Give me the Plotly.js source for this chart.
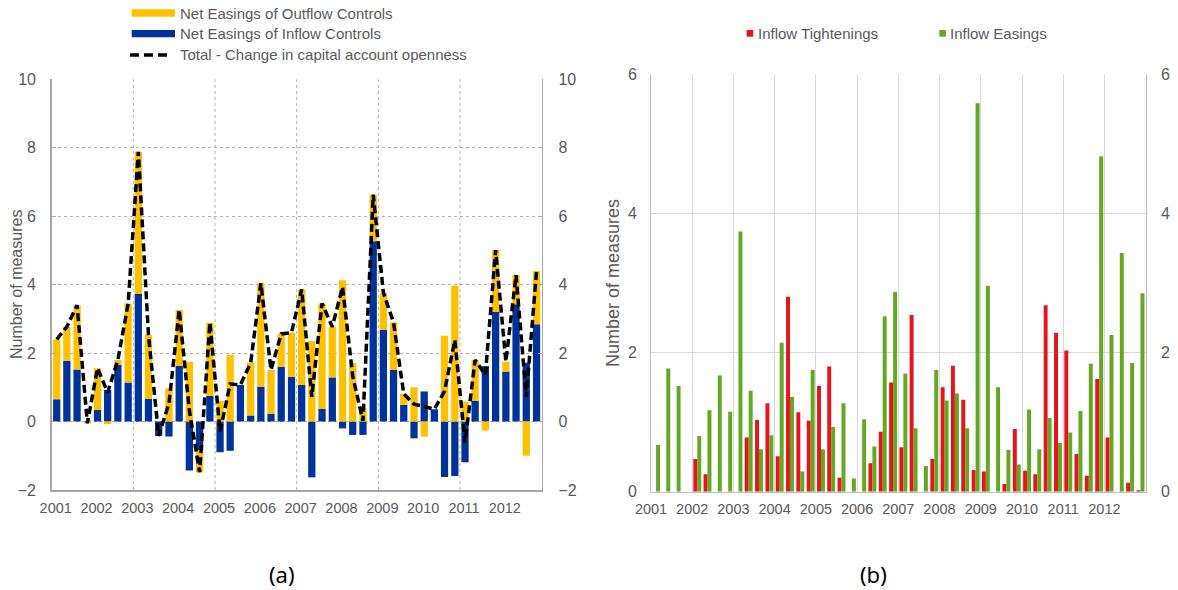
<!DOCTYPE html>
<html><head><meta charset="utf-8">
<script src="https://cdn.plot.ly/plotly-3.0.1.min.js"></script>
<style>html,body{margin:0;padding:0;background:#fff;}#chart{width:1178px;height:590px;}</style>
</head><body><div id="chart"></div>
<script>
// ---------- DATA ----------
const quarters = [
 '2001-01-01','2001-04-01','2001-07-01','2001-10-01',
 '2002-01-01','2002-04-01','2002-07-01','2002-10-01',
 '2003-01-01','2003-04-01','2003-07-01','2003-10-01',
 '2004-01-01','2004-04-01','2004-07-01','2004-10-01',
 '2005-01-01','2005-04-01','2005-07-01','2005-10-01',
 '2006-01-01','2006-04-01','2006-07-01','2006-10-01',
 '2007-01-01','2007-04-01','2007-07-01','2007-10-01',
 '2008-01-01','2008-04-01','2008-07-01','2008-10-01',
 '2009-01-01','2009-04-01','2009-07-01','2009-10-01',
 '2010-01-01','2010-04-01','2010-07-01','2010-10-01',
 '2011-01-01','2011-04-01','2011-07-01','2011-10-01',
 '2012-01-01','2012-04-01','2012-07-01','2012-10-01'];
const yearTicks = ['2001-01-01','2002-01-01','2003-01-01','2004-01-01','2005-01-01','2006-01-01',
 '2007-01-01','2008-01-01','2009-01-01','2010-01-01','2011-01-01','2012-01-01'];
const yearLabels = ['2001','2002','2003','2004','2005','2006','2007','2008','2009','2010','2011','2012'];

// Panel (a)
const netInflowEasings = [0.65,1.78,1.52,0,0.34,0.92,1.65,1.14,3.73,0.66,-0.42,-0.44,
 1.63,-1.43,-0.83,0.75,-0.90,-0.85,1.07,0.18,1.02,0.22,1.60,1.31,
 1.07,-1.63,0.37,1.29,-0.20,-0.39,-0.39,5.27,2.68,1.51,0.49,-0.49,
 0.88,0.36,-1.62,-1.59,-1.19,0.61,1.62,3.21,1.46,3.43,1.72,2.84];
const netOutflowEasings = [1.75,0.99,1.88,-0.05,1.22,-0.07,0.15,2.31,4.15,1.87,0,0.97,
 1.63,1.75,-0.65,2.14,0.61,1.95,0,1.54,3.02,1.29,0.96,1.29,
 2.79,2.35,3.08,1.48,4.13,1.72,0.41,1.36,1.08,1.39,0.32,1.00,
 -0.44,0,2.51,3.97,0.58,1.19,-0.26,1.80,0.29,0.85,-1.00,1.56];
const totalChange = [2.40,2.77,3.40,-0.05,1.56,0.85,1.80,3.45,7.88,2.53,-0.42,0.53,
 3.26,0.32,-1.48,2.89,-0.29,1.10,1.07,1.72,4.04,1.51,2.56,2.60,
 3.86,0.72,3.45,2.77,3.93,1.33,0.02,6.63,3.76,2.90,0.81,0.51,
 0.44,0.36,0.89,2.38,-0.61,1.80,1.36,5.01,1.75,4.28,0.72,4.40];

// Panel (b)
const inflowTightenings = [0,0,0,0,0.47,0.25,0,0,0,0.78,1.03,1.27,
 0.51,2.80,1.14,1.02,1.52,1.80,0.20,0,0,0.41,0.86,1.57,
 0.64,2.54,0,0.47,1.50,1.81,1.32,0.31,0.29,0,0.11,0.90,
 0.30,0.25,2.68,2.28,2.03,0.54,0.23,1.62,0.78,0,0.13,0.02];
const inflowEasings = [0.67,1.77,1.52,0,0.80,1.17,1.67,1.15,3.74,1.45,0.61,0.81,
 2.14,1.36,0.29,1.75,0.61,0.93,1.27,0.19,1.04,0.65,2.52,2.87,
 1.70,0.91,0.37,1.75,1.31,1.41,0.91,5.58,2.96,1.50,0.60,0.39,
 1.18,0.61,1.06,0.70,0.85,1.16,1.84,4.82,2.25,3.43,1.85,2.85];

// ---------- STYLE ----------
const W = 1178, H = 590;
const px = v => v / W, py = v => 1 - v / H;
const DAY = 86400000;
const FONT = 'Liberation Sans, Arial, sans-serif';
const GREY = '#595959';
const YELLOW = '#FFC000', BLUE = '#003399', RED = '#E8141B', GREEN = '#62A820';

const traces = [
 {type:'bar', name:'Net Easings of Inflow Controls', x:quarters, y:netInflowEasings,
  xaxis:'x', yaxis:'y', xperiod:'M3', xperiodalignment:'middle', width:65*DAY,
  marker:{color:BLUE, line:{width:0}}, showlegend:false},
 {type:'bar', name:'Net Easings of Outflow Controls', x:quarters, y:netOutflowEasings,
  xaxis:'x', yaxis:'y', xperiod:'M3', xperiodalignment:'middle', width:65*DAY,
  marker:{color:YELLOW, line:{width:0}}, showlegend:false},
 {type:'scatter', mode:'lines', name:'Total - Change in capital account openness', x:quarters, y:totalChange,
  xaxis:'x', yaxis:'y3', xperiod:'M3', xperiodalignment:'middle',
  line:{color:'#000000', width:3.5, dash:'8px,4px'}, showlegend:false},
 {type:'bar', name:'Inflow Tightenings', x:quarters, y:inflowTightenings,
  xaxis:'x2', yaxis:'y2', xperiod:'M3', xperiodalignment:'middle', width:35*DAY, offset:-35*DAY,
  marker:{color:RED, line:{width:0}}, showlegend:false},
 {type:'bar', name:'Inflow Easings', x:quarters, y:inflowEasings,
  xaxis:'x2', yaxis:'y4', xperiod:'M3', xperiodalignment:'middle', width:35*DAY, offset:0,
  marker:{color:GREEN, line:{width:0}}, showlegend:false}
];

const gridDates = ['2003-01-01','2005-01-01','2007-01-01','2009-01-01','2011-01-01'];
const shapes = gridDates.map(d => ({type:'line', xref:'x', yref:'y domain', x0:d, x1:d, y0:0, y1:1,
  line:{color:'#B0B0B0', width:1, dash:'dot'}, layer:'below'}));
// legend (a)
shapes.push({type:'rect', xref:'paper', yref:'paper', x0:px(131.7), x1:px(175), y0:py(16.7), y1:py(9.3), fillcolor:YELLOW, line:{width:0}});
shapes.push({type:'rect', xref:'paper', yref:'paper', x0:px(131.7), x1:px(175), y0:py(37.3), y1:py(30), fillcolor:BLUE, line:{width:0}});
shapes.push({type:'line', xref:'paper', yref:'paper', x0:px(130), x1:px(170), y0:py(55), y1:py(55), line:{color:'#000', width:3.5, dash:'9px,5px'}});
// legend (b)
shapes.push({type:'rect', xref:'paper', yref:'paper', x0:px(746.7), x1:px(753.3), y0:py(36.7), y1:py(30), fillcolor:RED, line:{width:0}});
shapes.push({type:'rect', xref:'paper', yref:'paper', x0:px(939.3), x1:px(946), y0:py(36.7), y1:py(30), fillcolor:GREEN, line:{width:0}});

const ann = (text, x, y, size, extra) => Object.assign({text, xref:'paper', yref:'paper', x:px(x), y:py(y),
  xanchor:'left', yanchor:'middle', showarrow:false, font:{family:FONT, size, color:GREY}}, extra||{});
const annotations = [
 ann('Net Easings of Outflow Controls', 177.5, 13.3, 15),
 ann('Net Easings of Inflow Controls', 177.5, 34, 15),
 ann('Total - Change in capital account openness', 177.5, 55, 15),
 ann('Inflow Tightenings', 755.5, 33.3, 15),
 ann('Inflow Easings', 947.5, 33.3, 15),
 ann('Number of measures', 16, 285, 16, {xanchor:'center', textangle:-90}),
 ann('Number of measures', 613, 283, 18, {xanchor:'center', textangle:-90}),
 ann('(a)', 282, 574, 22, {xanchor:'center', font:{family:'Noto Sans, sans-serif', size:22, color:'#000'}}),
 ann('(b)', 873, 574, 22, {xanchor:'center', font:{family:'Noto Sans, sans-serif', size:22, color:'#000'}})
];

const xCommon = {type:'date', range:['2001-01-01','2013-01-01'], tickmode:'array', tickvals:yearTicks, ticktext:yearLabels,
  ticks:'', showline:true, tickfont:{family:FONT, size:14.5, color:GREY}, ticklabelshift:4, ticklabelstandoff:4, fixedrange:true};

const layout = {
 width:W, height:H, margin:{l:0, r:0, t:0, b:0}, paper_bgcolor:'#ffffff', plot_bgcolor:'rgba(0,0,0,0)',
 barmode:'relative', showlegend:false, font:{family:FONT, color:GREY},
 xaxis: Object.assign({}, xCommon, {domain:[px(51.7), px(541.7)], anchor:'y', showgrid:false, linecolor:'#A6A6A6', linewidth:1.5}),
 yaxis: {domain:[py(490), py(79.3)], anchor:'x', range:[-2,10], tickmode:'linear', tick0:0, dtick:2,
   showgrid:true, gridcolor:'#B0B0B0', gridwidth:1, griddash:'dot', zeroline:false,
   showline:true, linecolor:'#A6A6A6', linewidth:1.5, ticks:'inside', ticklen:4, tickcolor:'#A6A6A6',
   tickfont:{family:FONT, size:16, color:GREY}, ticklabelstandoff:11, fixedrange:true},
 yaxis3: {overlaying:'y', side:'right', anchor:'x', range:[-2,10], tickmode:'linear', tick0:0, dtick:2,
   showgrid:false, zeroline:false, showline:true, linecolor:'#A6A6A6', linewidth:1.5, ticks:'inside', ticklen:4, tickcolor:'#A6A6A6',
   tickfont:{family:FONT, size:16, color:GREY}, ticklabelstandoff:12, fixedrange:true},
 xaxis2: Object.assign({}, xCommon, {domain:[px(651), px(1145.7)], anchor:'y2', showgrid:true, gridcolor:'#D9D9D9', gridwidth:1,
   linecolor:'#BFBFBF', linewidth:1, ticklabelshift:4.5}),
 yaxis2: {domain:[py(491.7), py(74.1)], anchor:'x2', range:[0,6], tickmode:'linear', tick0:0, dtick:2,
   showgrid:true, gridcolor:'#D9D9D9', gridwidth:1, zeroline:false, showline:true, linecolor:'#BFBFBF', linewidth:1, ticks:'',
   tickfont:{family:FONT, size:16, color:GREY}, ticklabelstandoff:10, fixedrange:true},
 yaxis4: {overlaying:'y2', side:'right', anchor:'x2', range:[0,6], tickmode:'linear', tick0:0, dtick:2,
   showgrid:false, zeroline:false, showline:true, linecolor:'#BFBFBF', linewidth:1, ticks:'',
   tickfont:{family:FONT, size:16, color:GREY}, ticklabelstandoff:11, fixedrange:true},
 shapes, annotations
};

Plotly.newPlot('chart', traces, layout, {staticPlot:true, displayModeBar:false});
</script></body></html>
